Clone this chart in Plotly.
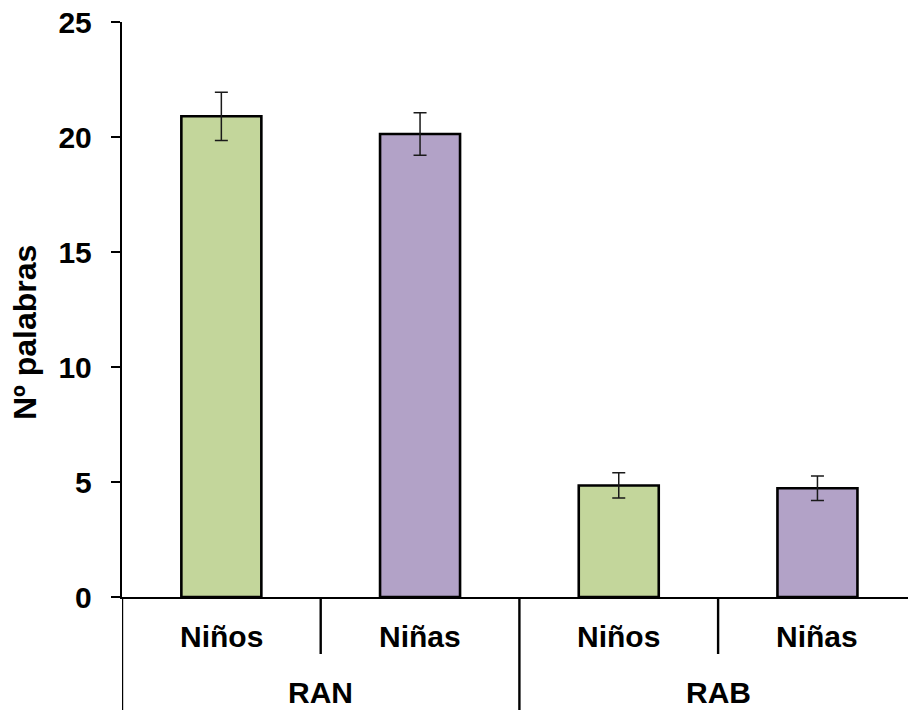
import plotly.graph_objects as go

# Word counts (mean ± error) by test and sex
groups = ["RAN", "RAB"]
sexes = ["Niños", "Niñas"]
ninos_mean = [20.9, 4.85]
ninas_mean = [20.13, 4.73]
ninos_err = [1.05, 0.55]
ninas_err = [0.92, 0.53]
y_ticks = [0, 5, 10, 15, 20, 25]
y_title = "Nº palabras"

W, H = 908, 710
L, T, B = 122, 22, 113
plot_w = W - L
plot_h = H - T - B
cat_px = 198.7  # width of one category slot in pixels

colors = {"Niños": "#C3D69B", "Niñas": "#B2A2C7"}
FONT = "Liberation Sans, Arial, sans-serif"
LW = 2.4

cats = [f"{g}|{s}" for g in groups for s in sexes]

fig = go.Figure()
for sex, means, errs in [("Niños", ninos_mean, ninos_err), ("Niñas", ninas_mean, ninas_err)]:
    fig.add_trace(go.Bar(
        x=[f"{g}|{sex}" for g in groups],
        y=means,
        width=0.4026,
        marker=dict(color=colors[sex], line=dict(color="black", width=2.6)),
        error_y=dict(type="data", array=errs, visible=True,
                     color="#1a1a1a", thickness=1.5, width=6.5),
        name=sex,
        showlegend=False,
    ))

x_hi = -0.5 + plot_w / cat_px

fig.update_layout(
    width=W, height=H,
    margin=dict(l=L, r=0, t=T, b=B, pad=0),
    paper_bgcolor="white", plot_bgcolor="white",
    barmode="overlay",
    font=dict(family=FONT, color="black"),
    xaxis=dict(type="category", categoryorder="array", categoryarray=cats,
               range=[-0.5, x_hi], showticklabels=False, ticks="",
               showgrid=False, zeroline=False,
               showline=True, linecolor="black", linewidth=LW),
    yaxis=dict(range=[0, 25], tickvals=y_ticks, ticks="outside", ticklen=9,
               tickwidth=LW, tickcolor="black", showgrid=False, zeroline=False,
               showline=True, linecolor="black", linewidth=LW,
               tickfont=dict(family=FONT, size=30, weight="bold", color="black"),
               ticklabelstandoff=13),
)

def px_to_paper_y(py):
    return (T + plot_h - py) / plot_h

def px_to_paper_x(px):
    return (px - L) / plot_w

# y-axis title
fig.add_annotation(text=y_title, textangle=-90, xref="paper", yref="paper",
                   x=px_to_paper_x(25), y=px_to_paper_y(333),
                   xanchor="center", yanchor="middle", showarrow=False,
                   font=dict(family=FONT, size=32, weight="bold"))

# Category labels (inner level: sex, outer level: test)
for g in groups:
    for s in sexes:
        fig.add_annotation(text=s, x=f"{g}|{s}", xref="x", yref="paper",
                           y=px_to_paper_y(636), yanchor="middle",
                           showarrow=False,
                           font=dict(family=FONT, size=30, weight="bold"))
for i, g in enumerate(groups):
    fig.add_annotation(text=g, x=2 * i + 0.5, xref="x", yref="paper",
                       y=px_to_paper_y(692), yanchor="middle",
                       showarrow=False,
                       font=dict(family=FONT, size=30, weight="bold"))

# Divider lines below the axis
for i in range(len(cats) + 1):
    xpos = i - 0.5
    outer = (i % len(sexes) == 0)
    y_end = px_to_paper_y(H + 2) if outer else px_to_paper_y(654)
    fig.add_shape(type="line", xref="x", yref="paper",
                  x0=xpos, x1=xpos, y0=0, y1=y_end,
                  line=dict(color="black", width=LW))

fig.write_html("out.html")
